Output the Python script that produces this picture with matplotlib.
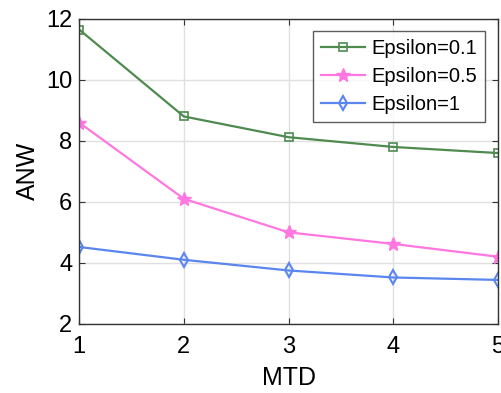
import matplotlib
matplotlib.use('Agg')
import matplotlib.pyplot as plt

plt.rcParams['font.family'] = ['Liberation Sans', 'DejaVu Sans']

mtd = [1, 2, 3, 4, 5]
eps01 = [11.65, 8.8, 8.12, 7.8, 7.6]
eps05 = [8.6, 6.1, 5.0, 4.62, 4.2]
eps1 = [4.52, 4.1, 3.75, 3.52, 3.44]
labels = ['Epsilon=0.1', 'Epsilon=0.5', 'Epsilon=1']

fig = plt.figure(figsize=(5.01, 3.93), dpi=100)
ax = fig.add_axes([0.158, 0.176, 0.836, 0.776])

ax.plot(mtd, eps01, color='#4f8a4f', marker='s', markersize=6, markerfacecolor='none', mew=1.2, lw=1.6, label=labels[0])
ax.plot(mtd, eps05, color='#ff77e0', marker='*', markersize=10, lw=1.6, label=labels[1])
ax.plot(mtd, eps1, color='#5a86ee', marker='d', markersize=7, markerfacecolor='none', mew=1.5, lw=1.6, label=labels[2])

ax.set_xlim(1, 5)
ax.set_ylim(2, 12)
ax.set_xticks(mtd)
ax.set_yticks([2, 4, 6, 8, 10, 12])
ax.grid(True, color='#e0e0e0', lw=1.0)
ax.set_axisbelow(True)
ax.tick_params(direction='in', top=True, right=True, labelsize=17, length=4, color='#333333', pad=5)
ax.tick_params(axis='x', pad=8.5)
for s in ax.spines.values():
    s.set_color('#333333')
    s.set_linewidth(1.0)
ax.set_xlabel('MTD', fontsize=18, labelpad=6)
ax.set_ylabel('ANW', fontsize=18, labelpad=4)
leg = ax.legend(loc='upper right', fontsize=14.5, fancybox=False, edgecolor='#333333',
                handlelength=2.2, borderpad=0.4, labelspacing=0.45, handletextpad=0.3,
                borderaxespad=0, bbox_to_anchor=(0.969, 0.961))
leg.get_frame().set_linewidth(1.0)

fig.savefig('out.png', dpi=100)
